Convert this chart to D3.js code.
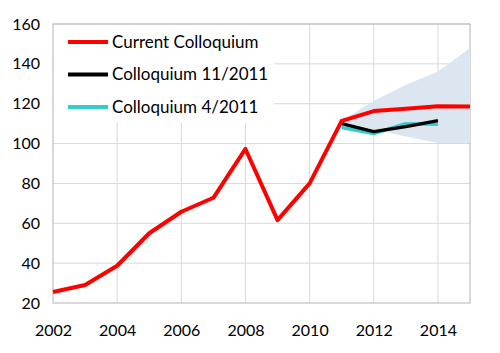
<!DOCTYPE html>
<html>
<head>
<meta charset="utf-8">
<script src="https://cdn.jsdelivr.net/npm/d3@7"></script>
<style>
body { margin: 0; background: #fff; }
text { font-family: Lato, "Noto Sans", sans-serif; }
</style>
</head>
<body>
<div id="chart"></div>
<script>
// values
var years = [2002, 2003, 2004, 2005, 2006, 2007, 2008, 2009, 2010, 2011, 2012, 2013, 2014, 2015];
var current = [25.5, 29, 38.7, 55, 65.8, 72.8, 97.3, 61.6, 80, 111.4, 116.3, 117.5, 118.7, 118.6];
var fcYears = [2011, 2012, 2013, 2014];
var nov2011 = [110, 106, 108.5, 111.5];
var apr2011 = [108, 105, 110, 109.7];
var bandYears = [2011, 2012, 2013, 2014, 2015];
var bandLow = [111, 107, 103.5, 100.3, 100.3];
var bandHigh = [111.5, 121.5, 129.5, 136, 148];
var yTicks = [20, 40, 60, 80, 100, 120, 140, 160];
var xTicks = [2002, 2004, 2006, 2008, 2010, 2012, 2014];

var width = 500, height = 353;
var pLeft = 53, pRight = 470, pTop = 24, pBottom = 303;

var svg = d3.select("#chart").append("svg")
  .attr("width", width)
  .attr("height", height);

var x = d3.scaleLinear().domain([2002, 2015]).range([pLeft, pRight]);
var y = d3.scaleLinear().domain([20, 160]).range([pBottom, pTop]);

// grid
svg.append("g")
  .selectAll("line")
  .data(yTicks.slice(1))
  .enter().append("line")
    .attr("x1", pLeft).attr("x2", pRight)
    .attr("y1", d => y(d)).attr("y2", d => y(d))
    .attr("stroke", "#d9d9d9");
svg.append("g")
  .selectAll("line")
  .data(xTicks.slice(1))
  .enter().append("line")
    .attr("x1", d => x(d)).attr("x2", d => x(d))
    .attr("y1", pTop).attr("y2", pBottom)
    .attr("stroke", "#d9d9d9");

// plot border
svg.append("rect")
  .attr("x", pLeft).attr("y", pTop)
  .attr("width", pRight - pLeft).attr("height", pBottom - pTop)
  .attr("fill", "none")
  .attr("stroke", "#b3b3b3");

// legend background hides the grid
svg.append("rect")
  .attr("x", pLeft + 1).attr("y", pTop + 1)
  .attr("width", 220).attr("height", 98)
  .attr("fill", "#fff");

// uncertainty band
var band = bandYears.map((d, i) => ({ year: d, lo: bandLow[i], hi: bandHigh[i] }));
svg.append("path")
  .datum(band)
  .attr("fill", "#dce6f0")
  .attr("d", d3.area()
    .x(d => x(d.year))
    .y0(d => y(d.lo))
    .y1(d => y(d.hi)));

var line = d3.line()
  .x(d => x(d[0]))
  .y(d => y(d[1]));

svg.append("path")
  .datum(fcYears.map((d, i) => [d, apr2011[i]]))
  .attr("fill", "none")
  .attr("stroke", "#33cccc")
  .attr("stroke-width", 3.5)
  .attr("stroke-linejoin", "round")
  .attr("d", line);

svg.append("path")
  .datum(fcYears.map((d, i) => [d, nov2011[i]]))
  .attr("fill", "none")
  .attr("stroke", "#000")
  .attr("stroke-width", 3.5)
  .attr("stroke-linejoin", "round")
  .attr("d", line);

svg.append("path")
  .datum(years.map((d, i) => [d, current[i]]))
  .attr("fill", "none")
  .attr("stroke", "#ff0000")
  .attr("stroke-width", 4)
  .attr("stroke-linejoin", "round")
  .attr("d", line);

// axes
var yAxis = svg.append("g")
  .attr("transform", "translate(" + pLeft + ",0)")
  .call(d3.axisLeft(y).tickValues(yTicks).tickSize(0).tickPadding(13));
var xAxis = svg.append("g")
  .attr("transform", "translate(0," + pBottom + ")")
  .call(d3.axisBottom(x).tickValues(xTicks).tickFormat(d3.format("d")).tickSize(0).tickPadding(22));
[yAxis, xAxis].forEach(function(g){
  g.select(".domain").remove();
  g.selectAll("text")
    .style("font-size", "16px")
    .style("font-family", "Lato, 'Noto Sans', sans-serif")
    .attr("fill", "#000");
});

// legend
var legend = [
  { name: "Current Colloquium", color: "#ff0000", w: 4 },
  { name: "Colloquium 11/2011", color: "#000", w: 4 },
  { name: "Colloquium 4/2011", color: "#33cccc", w: 4 }
];
var lg = svg.append("g")
  .selectAll("g")
  .data(legend)
  .enter().append("g")
    .attr("transform", (d, i) => "translate(68," + (42 + i * 32.5) + ")");
lg.append("line")
  .attr("x1", 0).attr("x2", 40)
  .attr("stroke", d => d.color)
  .attr("stroke-width", d => d.w);
lg.append("text")
  .attr("x", 44)
  .attr("dy", "0.35em")
  .style("font-size", "17px")
  .text(d => d.name);
</script>
</body>
</html>
